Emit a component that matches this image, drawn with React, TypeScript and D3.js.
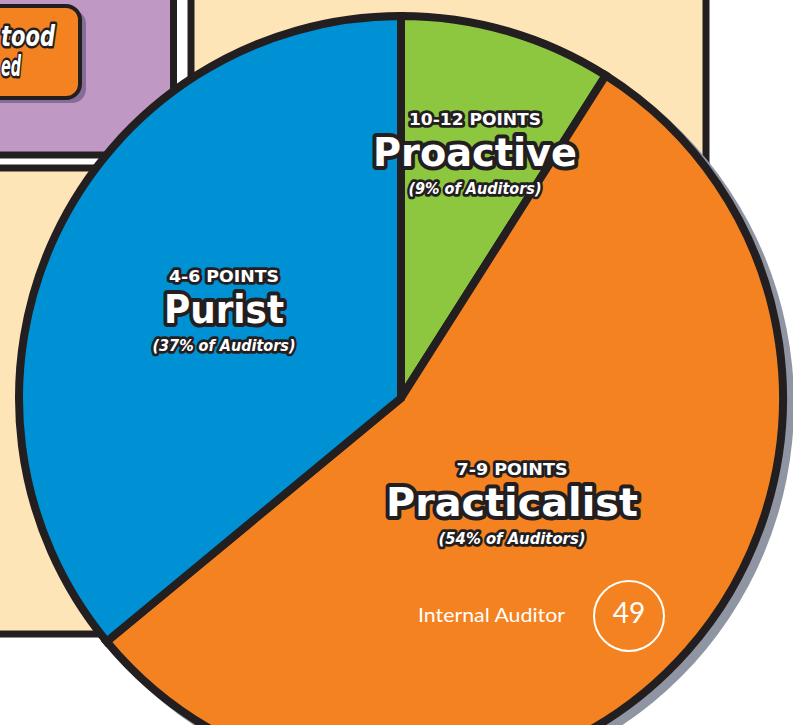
import React, { useEffect, useRef } from "react";
import * as d3 from "d3";

// slices, as drawn (clockwise from 12 o'clock)
const categories = ["Proactive", "Practicalist", "Purist"];
const sliceShares = [9, 55, 36];
const auditorShares = [9, 54, 37];
const pointRanges = ["10-12 POINTS", "7-9 POINTS", "4-6 POINTS"];
const sliceColors = ["#8dc63f", "#f48220", "#0091d5"];

// side badge
const badgeLabel = "Internal Auditor";
const badgeValue = 49;

// words left over from the neighbouring panel
const panelWords = ["tood", "ed"];

const W = 793;
const H = 725;
const INK = "#231f20";
const BOLD = "'DejaVu Sans', sans-serif";

// label layout, relative to the pie centre
const labelLayout: Record<string, { dx: number; dy: number; w: [number, number, number] }> = {
  Proactive: { dx: 74, dy: -233, w: [132, 204, 133] },
  Practicalist: { dx: 111, dy: 117, w: [111, 252, 147] },
  Purist: { dx: -177, dy: -76, w: [110, 120, 143] },
};

function App() {
  const ref = useRef<SVGSVGElement>(null);

  useEffect(() => {
    drawChart();
  }, []);

  function drawChart() {
    const svg = d3.select(ref.current);
    svg.selectAll("*").remove();

    const cx = 401;
    const cy = 398;
    const r = 382;

    // background panels
    const bg = svg.append("g");
    bg.append("rect")
      .attr("x", -20).attr("y", -20).attr("width", 193.5).attr("height", 175)
      .attr("fill", "#bf99c4").attr("stroke", INK).attr("stroke-width", 7);
    bg.append("rect")
      .attr("x", 191).attr("y", -20).attr("width", 515).attr("height", 400)
      .attr("fill", "#fde5b8").attr("stroke", INK).attr("stroke-width", 7);
    bg.append("rect")
      .attr("x", -20).attr("y", 168).attr("width", 200).attr("height", 466)
      .attr("fill", "#fde5b8").attr("stroke", INK).attr("stroke-width", 7);

    // orange call-out box
    bg.append("rect")
      .attr("x", -40).attr("y", 10).attr("width", 126).attr("height", 93).attr("rx", 14)
      .attr("fill", "#6d5a86").attr("opacity", 0.7);
    bg.append("rect")
      .attr("x", -40).attr("y", 6).attr("width", 120).attr("height", 92).attr("rx", 14)
      .attr("fill", "#f48220").attr("stroke", INK).attr("stroke-width", 4);
    bg.selectAll("text.word")
      .data(panelWords)
      .join("text")
      .attr("class", "word")
      .attr("x", 1)
      .attr("y", (d, i) => (i === 0 ? 46 : 76))
      .attr("font-family", BOLD)
      .attr("font-weight", 700)
      .attr("font-style", "italic")
      .attr("font-size", 28)
      .attr("fill", "#fff")
      .attr("stroke", INK)
      .attr("stroke-width", 5)
      .attr("stroke-linejoin", "round")
      .attr("paint-order", "stroke")
      .attr("textLength", (d, i) => (i === 0 ? 54 : 20))
      .attr("lengthAdjust", "spacingAndGlyphs")
      .text((d) => d);

    // pie
    const pie = d3.pie<number>().sort(null).value((d) => d);
    const arc = d3.arc<d3.PieArcDatum<number>>().innerRadius(0).outerRadius(r);
    const arcs = pie(sliceShares);

    const g = svg.append("g").attr("transform", `translate(${cx},${cy})`);

    g.append("circle")
      .attr("cx", 7).attr("cy", 6).attr("r", r + 4)
      .attr("fill", "#8f95a2");

    g.selectAll("path.slice")
      .data(arcs)
      .join("path")
      .attr("class", "slice")
      .attr("d", arc)
      .attr("fill", (d, i) => sliceColors[i])
      .attr("stroke", INK)
      .attr("stroke-width", 8)
      .attr("stroke-linejoin", "miter");

    // slice labels
    const labels = g.selectAll("g.label")
      .data(categories)
      .join("g")
      .attr("class", "label")
      .attr("transform", (d) => `translate(${labelLayout[d].dx},${labelLayout[d].dy})`);

    const outline = (sel: any, sw: number) =>
      sel.attr("text-anchor", "middle")
        .attr("fill", "#fff")
        .attr("stroke", INK)
        .attr("stroke-width", sw)
        .attr("stroke-linejoin", "round")
        .attr("paint-order", "stroke")
        .attr("lengthAdjust", "spacingAndGlyphs");

    labels.append("text")
      .attr("y", -40)
      .attr("font-family", BOLD)
      .attr("font-weight", 700)
      .attr("font-size", 16)
      .attr("textLength", (d) => labelLayout[d].w[0])
      .call(outline, 5.5)
      .text((d, i) => pointRanges[i]);

    labels.append("text")
      .attr("y", 1)
      .attr("font-family", BOLD)
      .attr("font-weight", 700)
      .attr("font-size", 39)
      .attr("textLength", (d) => labelLayout[d].w[1])
      .call(outline, 8)
      .text((d) => d);

    labels.append("text")
      .attr("y", 29)
      .attr("font-family", BOLD)
      .attr("font-weight", 700)
      .attr("font-style", "italic")
      .attr("font-size", 16)
      .attr("textLength", (d) => labelLayout[d].w[2])
      .call(outline, 5.5)
      .text((d, i) => `(${auditorShares[i]}% of Auditors)`);

    // badge
    const badge = svg.append("g").attr("transform", "translate(629,616)");
    badge.append("text")
      .attr("x", -211)
      .attr("y", 6)
      .attr("font-family", "Lato, sans-serif")
      .attr("font-size", 20)
      .attr("fill", "#fff")
      .attr("textLength", 147)
      .attr("lengthAdjust", "spacingAndGlyphs")
      .text(badgeLabel);
    badge.append("circle")
      .attr("r", 35)
      .attr("fill", "none")
      .attr("stroke", "#fff")
      .attr("stroke-width", 2);
    badge.append("text")
      .attr("y", 7)
      .attr("text-anchor", "middle")
      .attr("font-family", "Lato, sans-serif")
      .attr("font-size", 28)
      .attr("fill", "#fff")
      .text(badgeValue);
  }

  return (
    <svg
      ref={ref}
      width={W}
      height={H}
      style={{ position: "absolute", left: 0, top: 0, display: "block", background: "#fff" }}
    />
  );
}

export default App;
